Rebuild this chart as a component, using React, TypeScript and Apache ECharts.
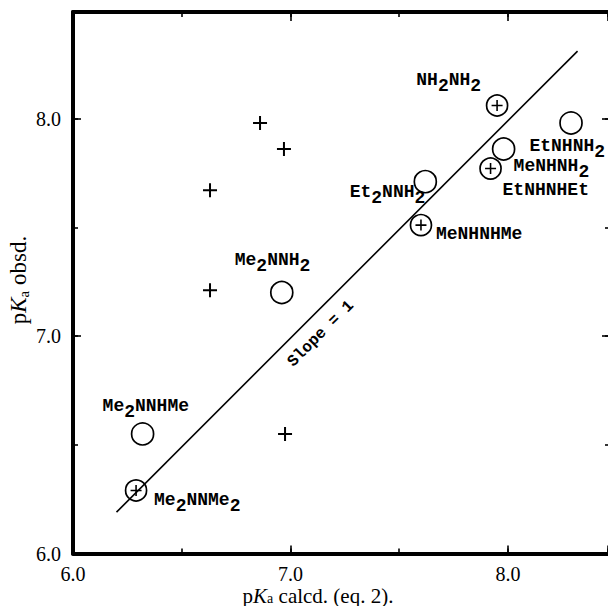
import React, { useEffect, useRef } from 'react';
import * as echarts from 'echarts';

// ---- data ----
const plusX = [6.86, 6.97, 6.63, 6.63, 6.975];
const plusY = [7.98, 7.86, 7.67, 7.21, 6.55];

const circleNames = ['Me_2NNH_2', 'Me_2NNHMe', 'Et_2NNH_2', 'EtNHNH_2', 'MeNHNH_2'];
const circleX = [6.96, 6.32, 7.62, 8.29, 7.98];
const circleY = [7.2, 6.55, 7.71, 7.98, 7.86];

const circlePlusNames = ['NH_2NH_2', 'EtNHNHEt', 'MeNHNHMe', 'Me_2NNMe_2'];
const circlePlusX = [7.95, 7.92, 7.6, 6.29];
const circlePlusY = [8.06, 7.77, 7.51, 6.29];

const lineX = [6.2, 8.32];
const lineY = [6.19, 8.31];

const slopeText = 'Slope = 1';
const slopeAtX = [7.14];
const slopeAtY = [7.01];

const tickValues = [6, 7, 8];
const tickLabels = ['6.0', '7.0', '8.0'];

// ---- label placement (styles, not data) ----
const circleLabelPos: { align: string; offset: number[] }[] = [
  { align: 'left', offset: [-47, -30] },
  { align: 'left', offset: [-40, -25] },
  { align: 'right', offset: [0, 13] },
  { align: 'right', offset: [34, 26] },
  { align: 'left', offset: [10, 20] },
];
const circlePlusLabelPos: { align: string; offset: number[] }[] = [
  { align: 'right', offset: [-16, -23] },
  { align: 'left', offset: [12, 24] },
  { align: 'left', offset: [15, 12] },
  { align: 'left', offset: [18, 13] },
];

const MONO = "'Liberation Mono', 'Courier New', monospace";
const SERIF = "'Liberation Serif', 'Times New Roman', serif";

const toRich = (name: string) =>
  name
    .split(/(_\d)/)
    .filter((p) => p.length > 0)
    .map((p) => (p[0] === '_' ? `{s|${p.slice(1)}}` : `{n|${p}}`))
    .join('');

const labelRich = {
  n: { fontFamily: MONO, fontWeight: 'bold', fontSize: 18, lineHeight: 24, verticalAlign: 'top', color: '#000' },
  s: { fontFamily: MONO, fontWeight: 'bold', fontSize: 18, lineHeight: 24, verticalAlign: 'bottom', color: '#000' },
};

const CROSS = 'path://M-1,-7L1,-7L1,-1L7,-1L7,1L1,1L1,7L-1,7L-1,1L-7,1L-7,-1L-1,-1Z';

const tickFmt = (v: number) => {
  const i = tickValues.indexOf(v);
  return i >= 0 ? tickLabels[i] : '';
};

const X_MIN = 6;
const X_MAX = 8.46;
const Y_MIN = 6;
const Y_MAX = 8.49;

const baseX = (extra: any) => ({
  type: 'value',
  min: X_MIN,
  max: X_MAX,
  splitLine: { show: false },
  ...extra,
});
const baseY = (extra: any) => ({
  type: 'value',
  min: Y_MIN,
  max: Y_MAX,
  splitLine: { show: false },
  ...extra,
});

const lineOn = { show: true, onZero: false, lineStyle: { color: '#000', width: 4 } };
const lineOff = { show: false, onZero: false };
const tick = (len: number) => ({ show: true, inside: true, length: len, lineStyle: { color: '#000', width: 1.6 } });
const noLabel = { show: false };
const tickLabelStyle = { fontFamily: SERIF, fontSize: 20, color: '#000' };

function buildOption() {
  const itemLabel = (name: string, pos: { align: string; offset: number[] }) => ({
    show: true,
    position: 'inside',
    align: pos.align,
    verticalAlign: 'middle',
    offset: pos.offset,
    formatter: toRich(name),
    rich: labelRich,
    color: '#000',
    textBorderWidth: 0,
  });

  return {
    animation: false,
    backgroundColor: '#fff',
    grid: { left: 73, top: 12, right: 0, bottom: 52.5, containLabel: false, outerBoundsMode: 'none' },
    xAxis: [
      baseX({
        position: 'bottom',
        interval: 0.5,
        axisLine: lineOn,
        axisTick: tick(5),
        axisLabel: { show: true, formatter: tickFmt, margin: 10, ...tickLabelStyle },
      }),
      baseX({ position: 'bottom', interval: 1, axisLine: lineOff, axisTick: tick(8), axisLabel: noLabel }),
      baseX({ position: 'top', interval: 0.5, axisLine: lineOn, axisTick: tick(5), axisLabel: noLabel }),
      baseX({ position: 'top', interval: 1, axisLine: lineOff, axisTick: tick(9), axisLabel: noLabel }),
    ],
    yAxis: [
      baseY({
        position: 'left',
        interval: 0.5,
        axisLine: lineOn,
        axisTick: tick(5),
        axisLabel: { show: true, formatter: tickFmt, margin: 12, ...tickLabelStyle },
      }),
      baseY({ position: 'left', interval: 1, axisLine: lineOff, axisTick: tick(8), axisLabel: noLabel }),
      baseY({ position: 'right', interval: 0.5, axisLine: lineOff, axisTick: tick(3), axisLabel: noLabel }),
      baseY({ position: 'right', interval: 1, axisLine: lineOff, axisTick: tick(6), axisLabel: noLabel }),
    ],
    graphic: [
      {
        type: 'text',
        x: 318,
        y: 595,
        silent: true,
        style: {
          text: '{n|p}{k|K}{s|a}{n| calcd. (eq. 2).}',
          align: 'center',
          verticalAlign: 'middle',
          textAlign: 'center',
          textVerticalAlign: 'middle',
          fill: '#000',
          rich: {
            n: { fontFamily: SERIF, fontSize: 21, lineHeight: 20, verticalAlign: 'top', fill: '#000' },
            k: { fontFamily: SERIF, fontStyle: 'italic', fontSize: 21, lineHeight: 20, verticalAlign: 'top', fill: '#000' },
            s: { fontFamily: SERIF, fontSize: 14, lineHeight: 20, verticalAlign: 'bottom', fill: '#000' },
          },
        },
      },
      {
        type: 'text',
        x: 19,
        y: 280,
        rotation: Math.PI / 2,
        silent: true,
        style: {
          text: '{n|p}{k|K}{s|a}{n| obsd.}',
          align: 'center',
          verticalAlign: 'middle',
          textAlign: 'center',
          textVerticalAlign: 'middle',
          fill: '#000',
          rich: {
            n: { fontFamily: SERIF, fontSize: 23, lineHeight: 24, verticalAlign: 'top', fill: '#000' },
            k: { fontFamily: SERIF, fontStyle: 'italic', fontSize: 23, lineHeight: 24, verticalAlign: 'top', fill: '#000' },
            s: { fontFamily: SERIF, fontSize: 15, lineHeight: 24, verticalAlign: 'bottom', fill: '#000' },
          },
        },
      },
    ],
    series: [
      {
        type: 'line',
        xAxisIndex: 0,
        yAxisIndex: 0,
        data: lineX.map((x, i) => [x, lineY[i]]),
        symbol: 'none',
        silent: true,
        lineStyle: { color: '#000', width: 1.6 },
      },
      {
        type: 'scatter',
        xAxisIndex: 0,
        yAxisIndex: 0,
        data: plusX.map((x, i) => [x, plusY[i]]),
        symbol: CROSS,
        symbolSize: 14,
        silent: true,
        itemStyle: { color: '#000', opacity: 1 },
      },
      {
        type: 'scatter',
        xAxisIndex: 0,
        yAxisIndex: 0,
        data: circleX.map((x, i) => ({
          value: [x, circleY[i]],
          label: itemLabel(circleNames[i], circleLabelPos[i]),
        })),
        symbol: 'circle',
        symbolSize: 22,
        silent: true,
        itemStyle: { color: 'rgba(0,0,0,0)', borderColor: '#000', borderWidth: 1.7, opacity: 1 },
      },
      {
        type: 'scatter',
        xAxisIndex: 0,
        yAxisIndex: 0,
        data: circlePlusX.map((x, i) => ({
          value: [x, circlePlusY[i]],
          label: itemLabel(circlePlusNames[i], circlePlusLabelPos[i]),
        })),
        symbol: 'circle',
        symbolSize: 21,
        silent: true,
        itemStyle: { color: 'rgba(0,0,0,0)', borderColor: '#000', borderWidth: 1.7, opacity: 1 },
      },
      {
        type: 'scatter',
        xAxisIndex: 0,
        yAxisIndex: 0,
        data: circlePlusX.map((x, i) => [x, circlePlusY[i]]),
        symbol: CROSS,
        symbolSize: 11,
        silent: true,
        itemStyle: { color: '#000', opacity: 1 },
      },
      {
        type: 'scatter',
        xAxisIndex: 0,
        yAxisIndex: 0,
        data: slopeAtX.map((x, i) => [x, slopeAtY[i]]),
        symbol: 'circle',
        symbolSize: 1,
        silent: true,
        itemStyle: { color: 'rgba(0,0,0,0)' },
        label: {
          show: true,
          position: 'inside',
          formatter: slopeText,
          rotate: 45,
          align: 'center',
          verticalAlign: 'middle',
          fontFamily: MONO,
          fontWeight: 'bold',
          fontSize: 16,
          color: '#000',
          textBorderWidth: 0,
          opacity: 1,
        },
      },
    ],
  };
}

export default function App() {
  const ref = useRef<HTMLDivElement>(null);
  useEffect(() => {
    if (!ref.current) return;
    const chart = echarts.init(ref.current, undefined, { renderer: 'svg' });
    chart.setOption(buildOption() as any);
    return () => {
      chart.dispose();
    };
  }, []);
  return (
    <div
      ref={ref}
      style={{ position: 'fixed', left: 0, top: 0, width: 608, height: 606, background: '#fff' }}
    />
  );
}
